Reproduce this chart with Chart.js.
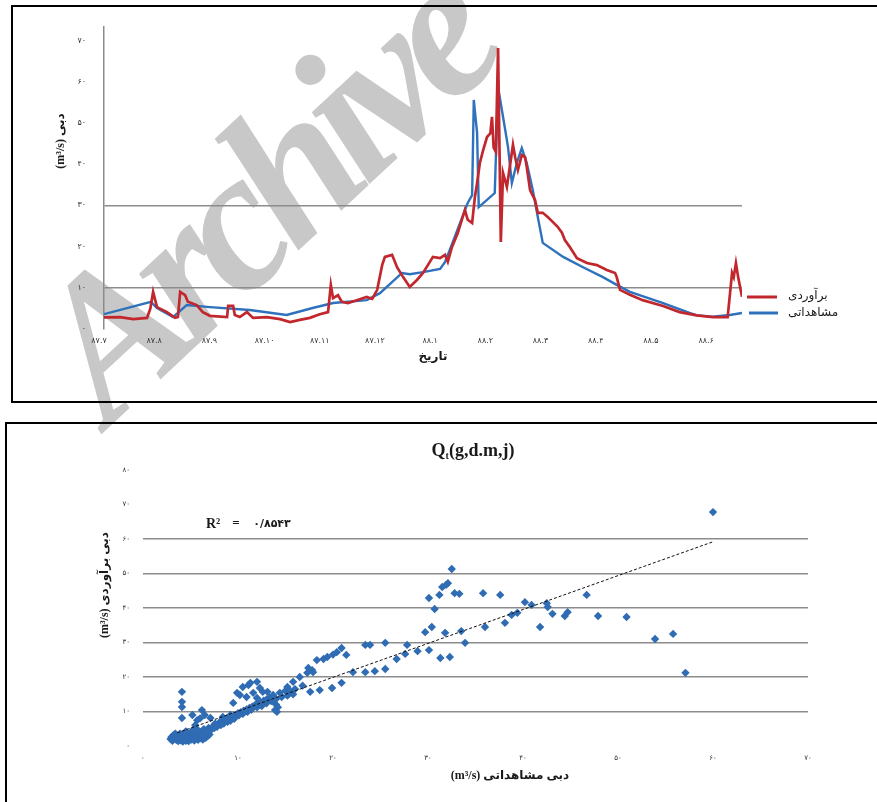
<!DOCTYPE html>
<html><head><meta charset="utf-8">
<script src="https://cdn.jsdelivr.net/npm/chart.js@4.4.1/dist/chart.umd.min.js"></script>
<style>
html,body{margin:0;padding:0;background:#fff;width:877px;height:802px;overflow:hidden;position:relative}
#wm{position:absolute;left:-5px;top:305px;transform-origin:0 0;transform:rotate(-43deg);font:italic bold 200px "Liberation Serif";letter-spacing:-15px;color:#c8c8c8;line-height:1;white-space:nowrap;z-index:0}
.box{position:absolute;border:2px solid #000;z-index:1}
#box1{left:11px;top:5px;width:900px;height:394px}
#box2{left:5px;top:422px;width:900px;height:420px}
canvas{position:absolute;z-index:3}
#c1{left:0;top:0}
#c2{left:0;top:423px}
</style></head>
<body>
<div id="wm">Archive</div>
<div class="box" id="box1"></div>
<div class="box" id="box2"></div>
<canvas id="c1" width="877" height="400"></canvas>
<canvas id="c2" width="877" height="379"></canvas>
<script>
// ---------- top chart data (x = month index from ۸۷.۷) ----------
const monthLabels = ['۸۷.۷','۸۷.۸','۸۷.۹','۸۷.۱۰','۸۷.۱۱','۸۷.۱۲','۸۸.۱','۸۸.۲','۸۸.۳','۸۸.۴','۸۸.۵','۸۸.۶'];
const yTickVals1 = [0,10,20,30,40,50,60,70];
const yTickLabels1 = ['۰','۱۰','۲۰','۳۰','۴۰','۵۰','۶۰','۷۰'];
const estT = [0.00,0.29,0.53,0.78,0.84,0.89,0.96,1.14,1.29,1.34,1.38,1.47,1.52,1.68,1.79,1.92,2.23,2.25,2.34,2.37,2.46,2.59,2.70,2.95,3.19,3.37,3.55,3.73,3.91,4.06,4.11,4.15,4.24,4.31,4.42,4.58,4.76,4.86,4.95,5.04,5.09,5.22,5.31,5.42,5.54,5.67,5.78,5.96,6.09,6.18,6.23,6.30,6.41,6.54,6.59,6.67,6.72,6.76,6.81,6.87,6.94,7.00,7.03,7.06,7.10,7.14,7.19,7.23,7.30,7.36,7.41,7.45,7.50,7.57,7.63,7.66,7.72,7.81,7.86,7.95,8.04,8.13,8.22,8.30,8.35,8.44,8.57,8.75,8.93,9.11,9.26,9.29,9.35,9.53,9.76,10.13,10.43,10.74,11.03,11.30,11.38,11.41,11.45,11.49,11.56];
const estQ = [2.8,2.9,2.4,2.7,5.0,9.0,5.3,4.1,2.7,2.9,9.0,8.2,6.6,5.8,4.1,3.2,2.9,5.6,5.6,3.4,2.9,4.1,2.7,2.9,2.4,1.7,2.2,2.7,3.6,4.1,10.7,7.5,8.2,6.6,6.3,7.0,7.8,7.3,9.5,15.5,17.5,18.0,15.0,12.6,10.2,11.9,13.6,17.5,17.2,18.0,16.3,19.7,23.3,28.9,26.5,25.7,32.0,35.4,40.3,43.4,46.6,47.5,51.5,44.0,43.0,68.2,21.1,37.9,34.5,40.0,44.7,41.7,38.6,42.2,41.7,39.3,33.7,31.3,28.2,28.2,27.2,26.0,24.8,23.3,21.6,19.9,17.2,16.0,15.5,14.3,13.6,12.6,9.5,8.3,7.0,5.6,4.1,3.3,2.9,2.9,13.6,12.6,16.0,12.6,7.8];
const obsT = [0.00,0.85,0.96,1.25,1.50,1.92,2.64,3.31,3.78,4.15,4.76,5.00,5.40,5.54,5.78,6.09,6.18,6.30,6.45,6.59,6.67,6.70,6.76,6.79,7.08,7.14,7.23,7.32,7.39,7.48,7.57,7.66,7.77,7.86,7.95,8.32,8.68,9.04,9.29,9.53,10.13,10.61,10.74,11.03,11.34,11.56];
const obsQ = [3.6,6.6,5.1,2.9,5.8,5.3,4.6,3.4,5.1,6.3,7.0,8.7,13.6,13.3,13.8,14.6,16.3,20.4,25.7,30.6,32.5,55.6,47.6,29.6,33.0,58.7,51.5,44.2,35.4,40.3,43.9,40.3,33.7,27.2,20.9,17.5,15.0,12.6,10.7,9.0,6.3,3.9,3.3,3.0,3.4,3.9];
const seriesNames = ['برآوردی','مشاهداتی'];

// ---------- bottom chart data ----------
const xTickVals2 = [0,10,20,30,40,50,60,70];
const xTickLabels2 = ['۰','۱۰','۲۰','۳۰','۴۰','۵۰','۶۰','۷۰'];
const yTickVals2 = [0,10,20,30,40,50,60,70,80];
const yTickLabels2 = ['۰','۱۰','۲۰','۳۰','۴۰','۵۰','۶۰','۷۰','۸۰'];
const scatObs = [3.0,3.3,3.5,3.6,3.8,4.0,4.1,4.3,4.4,4.6,4.7,4.9,5.0,5.1,5.3,5.4,5.6,5.7,5.9,6.0,6.2,6.3,6.5,6.7,3.2,3.9,4.5,5.2,5.8,6.4,6.9,7.2,
 2.9,3.1,3.4,3.7,3.9,4.2,4.2,4.5,4.8,4.8,5.1,5.4,5.5,5.8,6.1,6.3,6.6,6.8,7.0,6.1,5.6,4.0,3.4,4.6,5.3,6.8,
 7.4,7.6,7.9,8.1,8.3,8.6,8.8,9.0,9.3,9.5,9.8,10.0,10.3,10.6,10.9,11.2,11.5,11.8,12.1,12.4,12.7,13.0,13.3,13.6,
 7.5,7.8,8.2,8.5,8.9,9.2,9.6,10.1,10.5,11.0,11.4,12.0,12.5,13.0,13.5,14.0,14.6,15.2,15.8,
 5.2,6.2,6.5,5.7,7.1,9.2,8.4,5.5,6.0,
 4.1,4.1,4.1,4.1,
 9.5,10.2,10.5,11.3,12.0,12.3,13.1,13.7,11.6,10.9,12.0,12.6,9.9,11.1,
 13.9,14.1,13.7,14.4,14.0,14.2,
 15.2,15.8,16.5,17.3,17.8,15.0,15.5,16.0,16.8,17.4,17.9,17.6,18.6,19.9,20.9,18.3,19.4,20.4,20.9,21.4,19.0,20.0,22.1,23.4,24.4,25.5,23.4,23.9,25.5,26.7,27.6,27.8,28.9,30.1,29.7,30.4,31.3,32.3,31.8,30.7,30.1,31.2,31.5,31.9,32.1,32.5,32.8,33.3,33.5,33.9,35.8,36.0,37.6,38.1,38.8,39.4,40.2,40.9,41.8,42.5,42.6,43.1,44.4,44.7,46.7,47.9,50.9,53.9,55.8,57.1,60.0];
const scatEst = [2.6,2.2,1.8,3.0,2.4,1.6,2.9,2.0,3.4,1.7,2.6,2.2,3.6,1.9,2.9,2.3,3.3,2.0,2.8,3.9,2.5,3.4,3.0,3.8,3.1,3.6,4.2,4.5,4.6,4.9,5.2,4.8,
 2.0,1.5,2.7,1.4,2.1,1.3,2.5,1.5,1.4,3.0,2.6,1.6,3.8,1.8,2.2,1.9,2.4,2.9,3.3,3.0,2.5,3.3,3.6,3.9,4.0,4.4,
 5.8,6.5,6.2,7.0,6.8,7.4,7.9,7.6,8.2,8.7,8.9,9.5,9.8,10.2,10.6,11.0,11.4,11.9,12.3,12.7,13.1,13.5,13.9,14.3,
 5.2,5.6,6.1,6.5,7.0,7.3,7.9,8.9,9.3,9.9,10.5,11.2,11.6,12.4,13.0,13.6,14.2,14.6,15.0,
 9.0,10.4,9.0,7.5,8.1,9.0,8.4,6.0,8.0,
 15.7,12.8,11.3,8.1,
 12.5,14.8,17.1,18.3,18.6,16.8,15.7,14.8,15.4,14.2,13.9,15.7,15.4,17.7,
 10.4,9.9,13.3,15.4,12.0,11.2,
 17.1,18.6,20.0,21.2,22.0,16.0,15.8,16.5,17.5,22.6,21.4,15.7,16.2,16.8,18.3,24.9,25.8,27.2,28.4,26.4,25.2,26.5,21.4,21.4,21.7,22.3,29.3,29.3,29.9,25.2,26.7,29.3,27.5,27.8,33.0,34.5,25.5,25.8,32.8,39.7,42.9,43.8,46.1,46.7,47.2,51.3,44.3,44.1,33.3,29.9,44.3,34.5,43.8,35.7,38.0,38.6,41.7,40.9,34.5,41.4,40.3,38.3,37.7,38.8,43.8,37.7,37.4,31.0,32.5,21.2,67.8];
const trendX = [3.6, 60];
const trendY = [3.8, 59.2];

const GRID = '#8c8c8c';
const tickFont = {family:'DejaVu Sans', size:8};

function textLayer(items, extra){
  return {id:'textLayer', afterDraw(chart){
    const ctx = chart.ctx;
    ctx.save();
    if (extra) extra(ctx, chart);
    items.forEach(it=>{
      ctx.save();
      ctx.font = it.font; ctx.fillStyle = it.color || '#1a1a1a';
      ctx.textAlign = it.align || 'center'; ctx.textBaseline = 'middle';
      ctx.direction = it.dir || 'ltr';
      ctx.translate(it.x, it.y);
      if (it.rot) ctx.rotate(it.rot);
      ctx.fillText(it.text, 0, 0);
      ctx.restore();
    });
    ctx.restore();
  }};
}

// ---------- top chart ----------
new Chart(document.getElementById('c1'), {
  type:'line',
  data:{datasets:[
    {label:seriesNames[0], data:estT.map((t,i)=>({x:t,y:estQ[i]})), borderColor:'#c1272d', borderWidth:2.7, pointRadius:0, tension:0},
    {label:seriesNames[1], data:obsT.map((t,i)=>({x:t,y:obsQ[i]})), borderColor:'#2e72bd', borderWidth:2.4, pointRadius:0, tension:0}
  ]},
  options:{
    responsive:false, animation:false, devicePixelRatio:1,
    layout:{padding:{left:54, top:27, right:135, bottom:31}},
    plugins:{legend:{display:false}, tooltip:{enabled:false}},
    scales:{
      x:{type:'linear', min:0, max:11.56,
        afterBuildTicks:s=>{s.ticks = monthLabels.map((l,i)=>({value:i}));},
        afterFit:s=>{s.height=40;},
        grid:{display:false, drawTicks:false}, border:{display:false},
        ticks:{callback:v=>monthLabels[v], font:tickFont, color:'#333', padding:7, maxRotation:0, autoSkip:false, labelOffset:-5}},
      y:{type:'linear', min:0, max:73.3,
        afterBuildTicks:s=>{s.ticks = yTickVals1.map(v=>({value:v}));},
        afterFit:s=>{s.width=50;},
        grid:{drawTicks:false, lineWidth:1.4, color:c=>(c.tick && (c.tick.value===10||c.tick.value===30))?GRID:'rgba(0,0,0,0)'},
        border:{display:true, color:GRID, width:1.5},
        ticks:{callback:v=>yTickLabels1[yTickVals1.indexOf(v)], font:tickFont, color:'#333', padding:18}}
    }
  },
  plugins:[textLayer([
    {text:'تاریخ', x:433, y:357, font:'bold 12px "DejaVu Sans"'},
    {text:'دبی (m³/s)', x:61, y:141, rot:-Math.PI/2, dir:'rtl', font:'bold 12px "Liberation Serif", "DejaVu Sans"'},
    {text:seriesNames[0], x:788, y:296, align:'left', font:'12px "DejaVu Sans"'},
    {text:seriesNames[1], x:788, y:313, align:'left', font:'12px "DejaVu Sans"'}
  ], (ctx)=>{
    ctx.lineWidth = 3;
    ctx.strokeStyle = '#c1272d'; ctx.beginPath(); ctx.moveTo(747,297); ctx.lineTo(777,297); ctx.stroke();
    ctx.strokeStyle = '#2e72bd'; ctx.beginPath(); ctx.moveTo(749,313); ctx.lineTo(778,313); ctx.stroke();
  })]
});

// ---------- bottom chart ----------
new Chart(document.getElementById('c2'), {
  type:'scatter',
  data:{datasets:[
    {type:'line', data:trendX.map((x,i)=>({x:x,y:trendY[i]})), borderColor:'#111', borderWidth:1, borderDash:[3,2], pointRadius:0, fill:false},
    {data:scatObs.map((x,i)=>({x:x,y:scatEst[i]})), pointStyle:'rectRot', pointRadius:4.2, backgroundColor:'#2f6cb3', borderWidth:0}
  ]},
  options:{
    responsive:false, animation:false, devicePixelRatio:1,
    layout:{padding:{left:93, top:47, right:69, bottom:26}},
    plugins:{legend:{display:false}, tooltip:{enabled:false}},
    scales:{
      x:{type:'linear', min:0, max:70,
        afterBuildTicks:s=>{s.ticks = xTickVals2.map(v=>({value:v}));},
        afterFit:s=>{s.height=30;},
        grid:{display:false, drawTicks:false}, border:{display:false},
        ticks:{callback:v=>xTickLabels2[xTickVals2.indexOf(v)], font:{family:'DejaVu Sans', size:7}, color:'#333', padding:8, maxRotation:0, autoSkip:false}},
      y:{type:'linear', min:0, max:80,
        afterBuildTicks:s=>{s.ticks = yTickVals2.map(v=>({value:v}));},
        afterFit:s=>{s.width=50;},
        grid:{drawTicks:false, lineWidth:1.4, color:c=>(c.tick && c.tick.value>=10 && c.tick.value<=60)?GRID:'rgba(0,0,0,0)'},
        border:{display:false},
        ticks:{callback:v=>yTickLabels2[yTickVals2.indexOf(v)], font:{family:'DejaVu Sans', size:7}, color:'#333', padding:13}}
    }
  },
  plugins:[textLayer([
    {text:'دبی مشاهداتی (m³/s)', x:510, y:353, dir:'rtl', font:'bold 12px "Liberation Serif", "DejaVu Sans"'},
    {text:'دبی برآوردی (m³/s)', x:105, y:162, rot:-Math.PI/2, dir:'rtl', font:'bold 12px "Liberation Serif", "DejaVu Sans"'},
    {text:'R²', x:206, y:101, align:'left', font:'bold 14px "Liberation Serif"'},
    {text:'=', x:236, y:101, font:'bold 13px "Liberation Serif"'},
    {text:'۰/۸۵۴۳', x:272, y:101, font:'bold 11px "DejaVu Sans"'}
  ], (ctx)=>{
    ctx.fillStyle = '#1a1a1a'; ctx.textBaseline = 'alphabetic'; ctx.textAlign = 'left';
    const f1 = 'bold 18px "Liberation Serif"', f2 = 'bold 10px "Liberation Serif"';
    ctx.font = f1; const wQ = ctx.measureText('Q').width, wR = ctx.measureText('(g,d.m,j)').width;
    ctx.font = f2; const wS = ctx.measureText('t').width;
    let x = 473 - (wQ + wS + wR)/2, y = 33;
    ctx.font = f1; ctx.fillText('Q', x, y); x += wQ;
    ctx.font = f2; ctx.fillText('t', x, y+3); x += wS;
    ctx.font = f1; ctx.fillText('(g,d.m,j)', x, y);
  })]
});
</script>
</body></html>
